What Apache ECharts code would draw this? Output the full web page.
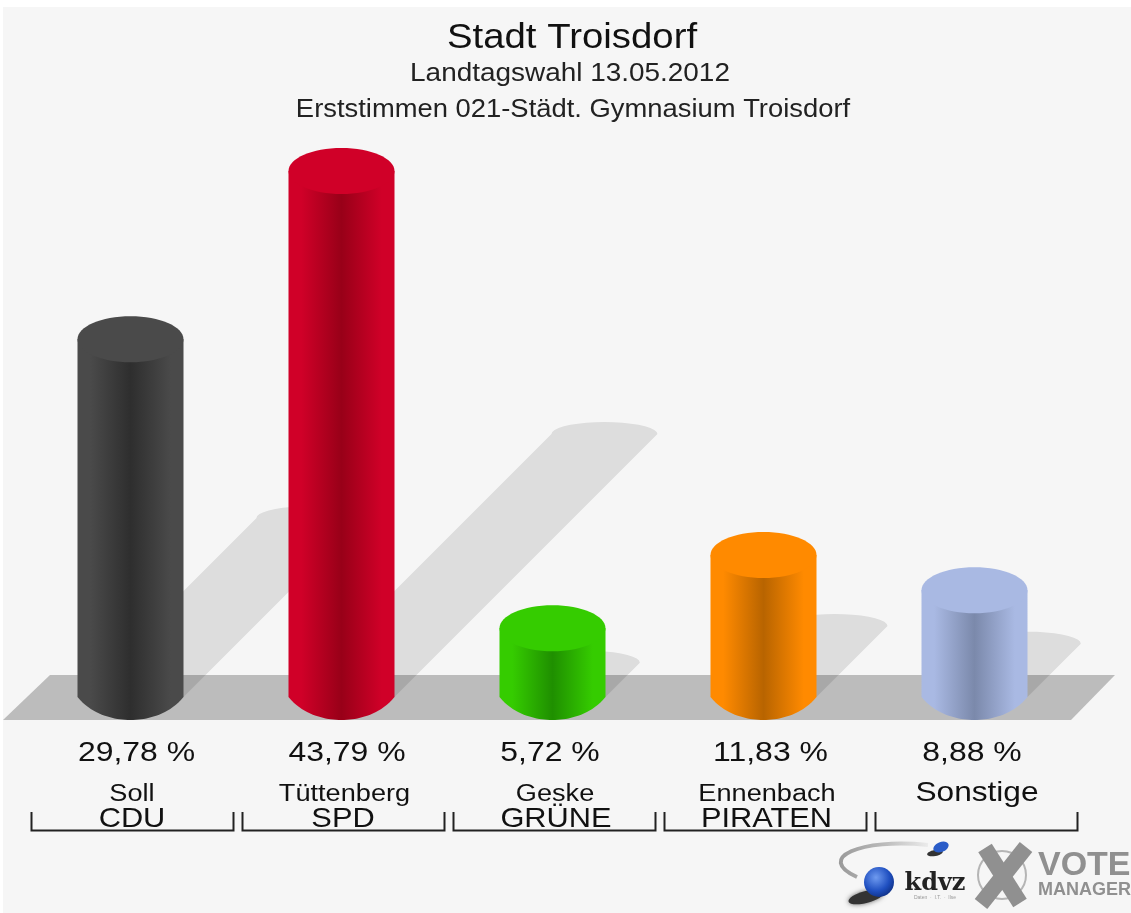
<!DOCTYPE html>
<html>
<head>
<meta charset="utf-8">
<title>Stadt Troisdorf</title>
<script src="https://cdn.jsdelivr.net/npm/echarts@6/dist/echarts.min.js"></script>
<style>
html, body { margin: 0; padding: 0; background: #fff; }
#main { width: 1131px; height: 913px; }
</style>
</head>
<body>
<div id="main"></div>
<script type="text/javascript">
var titleLines = ['Stadt Troisdorf', 'Landtagswahl 13.05.2012', 'Erststimmen 021-Städt. Gymnasium Troisdorf'];
var parties = ['CDU', 'SPD', 'GRÜNE', 'PIRATEN', ''];
var candidates = ['Soll', 'Tüttenberg', 'Geske', 'Ennenbach', 'Sonstige'];
var percents = [29.78, 43.79, 5.72, 11.83, 8.88];
var percentLabels = ['29,78 %', '43,79 %', '5,72 %', '11,83 %', '8,88 %'];
var edgeColors = ['#4a4a4a', '#d00028', '#35cc00', '#ff8a00', '#a9b9e3'];
var coreColors = ['#2e2e2e', '#980018', '#1f8f00', '#b86400', '#7b89ab'];

// cylinder shape
var FONT = '"Liberation Sans", Arial, sans-serif';
var RX = 53, RY = 23;
// small label shifts, the original is not quite centred
var percentShift = [6, 5.5, -2.5, 7, -2.5];
var nameShift = [1.5, 3, 2.5, 3.5, 2.5];
var partyShift = [1.5, 1.5, 3.5, 3, 0];

var chartDom = document.getElementById('main');
var myChart = echarts.init(chartDom);

var seriesData = percents.map(function (v, i) { return [candidates[i], v]; });

// the source image is stretched sideways, so text gets a scaleX
function wideText(s, x, y, size, stretch, color) {
    return {
        type: 'text',
        x: x,
        y: y,
        scaleX: stretch,
        style: { text: s, x: 0, y: 0, align: 'center', verticalAlign: 'middle', font: size + 'px ' + FONT, fill: color || '#111' }
    };
}

function renderShadow(params, api) {
    var top = api.coord([api.value(0), api.value(1)]);
    var base = api.coord([api.value(0), 0]);
    var rise = (base[1] - top[1]) / 2;
    var cx = top[0] + rise, cy = base[1] - rise;
    var pts = [[base[0] + RX, base[1]], [base[0] - RX, base[1]]];
    for (var a = 180; a >= 0; a -= 10) {
        var r = a * Math.PI / 180;
        pts.push([cx + RX * Math.cos(r), cy - 12 * Math.sin(r)]);
    }
    return {
        type: 'polygon',
        shape: { points: pts },
        style: { fill: 'rgba(0,0,0,0.1)' }
    };
}

function renderCylinder(params, api) {
    var i = params.dataIndex;
    var top = api.coord([api.value(0), api.value(1)]);
    var base = api.coord([api.value(0), 0]);
    var side = new echarts.graphic.LinearGradient(0, 0, 1, 0, [
        { offset: 0, color: edgeColors[i] },
        { offset: 0.12, color: edgeColors[i] },
        { offset: 0.5, color: coreColors[i] },
        { offset: 0.88, color: edgeColors[i] },
        { offset: 1, color: edgeColors[i] }
    ]);
    // body with the slightly pointed bottom arc of the original
    var pts = [[base[0] - RX, top[1]], [base[0] + RX, top[1]]];
    for (var k = 20; k >= -20; k--) {
        var dx = RX * k / 20;
        var dy = 47.8 * Math.sqrt(1 - (dx / 62) * (dx / 62)) - 24.8;
        pts.push([base[0] + dx, base[1] + dy]);
    }
    return {
        type: 'group',
        children: [
            { type: 'polygon', shape: { points: pts }, style: { fill: side } },
            { type: 'ellipse', shape: { cx: top[0], cy: top[1], rx: RX, ry: RY }, style: { fill: edgeColors[i] } }
        ]
    };
}

function renderLabels(params, api) {
    var i = params.dataIndex;
    var x = api.coord([api.value(0), 0])[0];
    var l = x - 99, r = x + 103, by = 830.5;
    var isOther = parties[i] === '';
    return {
        type: 'group',
        children: [
            { type: 'polyline', shape: { points: [[l, 812], [l, by], [r, by], [r, 812]] }, style: { stroke: '#222', lineWidth: 2, fill: null } },
            wideText(percentLabels[i], x + percentShift[i], 753.5, 28, 1.14),
            wideText(candidates[i], x + nameShift[i], isOther ? 793 : 794.5, isOther ? 28 : 23, isOther ? 1.13 : 1.18),
            wideText(parties[i], x + partyShift[i], 819, 28, 1.1)
        ]
    };
}

var option = {
    backgroundColor: '#fff',
    animation: false,
    grid: { left: 25, width: 1055, top: 96.5, height: 600.5 },
    xAxis: { type: 'category', data: candidates, show: false },
    yAxis: { type: 'value', min: 0, max: 50, show: false },
    graphic: {
        elements: [
            { type: 'rect', z: -10, shape: { x: 3, y: 7, width: 1128, height: 906 }, style: { fill: '#f6f6f6' } },
            { type: 'polygon', z: -9, shape: { points: [[3, 720], [50, 675], [1115, 675], [1071, 720]] }, style: { fill: '#bcbcbc' } },
            // title block
            Object.assign(wideText(titleLines[0], 572, 38, 35, 1.096), { z: 5 }),
            Object.assign(wideText(titleLines[1], 570, 74.5, 25, 1.117, '#222'), { z: 5 }),
            Object.assign(wideText(titleLines[2], 573, 110, 25, 1.095, '#222'), { z: 5 }),
            // kdvz logo
            { type: 'bezierCurve', z: 5, shape: { x1: 928, y1: 845, cpx1: 860, cpy1: 838, cpx2: 815, cpy2: 858, x2: 857, y2: 877 },
              style: { stroke: new echarts.graphic.LinearGradient(0, 0, 1, 0, [{ offset: 0, color: '#999' }, { offset: 0.5, color: '#bbb' }, { offset: 1, color: '#eee' }]), lineWidth: 4, fill: null } },
            { type: 'ellipse', z: 5, x: 866, y: 897, rotation: 0.25, shape: { cx: 0, cy: 0, rx: 18, ry: 6 },
              style: { fill: '#333', shadowBlur: 5, shadowColor: '#666' } },
            { type: 'circle', z: 6, shape: { cx: 879, cy: 882, r: 15 }, style: { fill: new echarts.graphic.RadialGradient(0.4, 0.35, 0.75, [{ offset: 0, color: '#6f9bf0' }, { offset: 0.6, color: '#1f4fc0' }, { offset: 1, color: '#0c2a78' }]) } },
            { type: 'ellipse', z: 5, x: 935, y: 853, rotation: 0.2, shape: { cx: 0, cy: 0, rx: 8, ry: 3 }, style: { fill: '#333' } },
            { type: 'ellipse', z: 6, x: 941, y: 847, rotation: 0.4, shape: { cx: 0, cy: 0, rx: 8, ry: 5 }, style: { fill: '#2a5cc8' } },
            { type: 'text', z: 6, style: { text: 'kdvz', x: 935, y: 884, align: 'center', verticalAlign: 'middle', font: 'bold 24px "DejaVu Serif", serif', fill: '#222' } },
            { type: 'text', z: 6, style: { text: 'Daten  ·  I.T.  ·  Ilse', x: 935, y: 898, align: 'center', verticalAlign: 'middle', font: '5px ' + FONT, fill: '#999' } },
            // vote manager logo
            { type: 'circle', z: 6, shape: { cx: 1002, cy: 875, r: 24 }, style: { stroke: '#b5b5b5', lineWidth: 2, fill: null } },
            { type: 'line', z: 7, shape: { x1: 985, y1: 848, x2: 1020, y2: 903 }, style: { stroke: '#909090', lineWidth: 16 } },
            { type: 'line', z: 7, shape: { x1: 1026, y1: 847, x2: 981, y2: 904 }, style: { stroke: '#909090', lineWidth: 16 } },
            { type: 'text', z: 7, x: 1038, y: 866, scaleX: 1.03, style: { text: 'VOTE', x: 0, y: 0, align: 'left', verticalAlign: 'middle', font: 'bold 33px ' + FONT, fill: '#909090' } },
            { type: 'text', z: 7, style: { text: 'MANAGER', x: 1038, y: 890, align: 'left', verticalAlign: 'middle', font: 'bold 18px ' + FONT, fill: '#909090' } }
        ]
    },
    series: [
        { type: 'custom', name: 'Schatten', data: seriesData, renderItem: renderShadow, clip: false, z: 1, silent: true },
        { type: 'custom', name: 'Erststimmen', data: seriesData, renderItem: renderCylinder, clip: false, z: 2, silent: true },
        { type: 'custom', name: 'Beschriftung', data: seriesData, renderItem: renderLabels, clip: false, z: 3, silent: true }
    ]
};
myChart.setOption(option);
</script>
</body>
</html>
